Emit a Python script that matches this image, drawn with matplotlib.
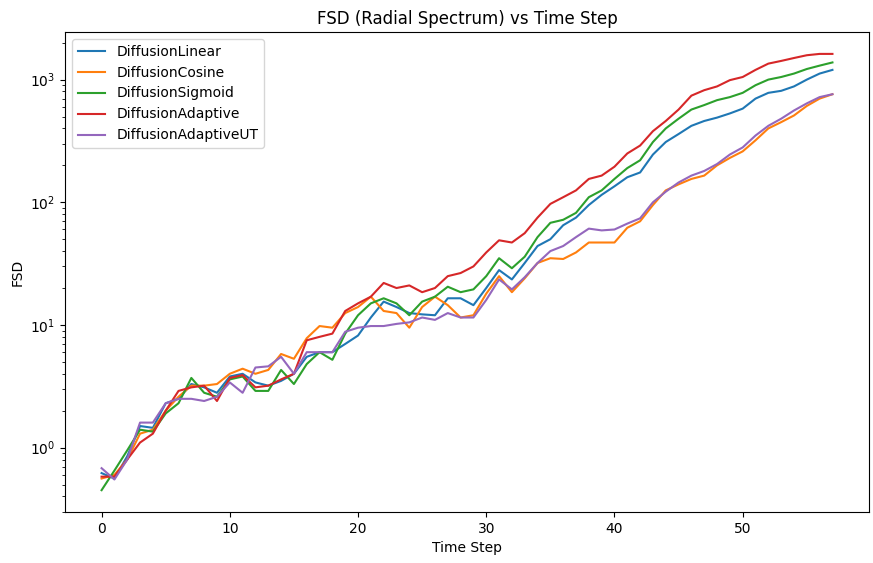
import numpy as np
import matplotlib.pyplot as plt

steps = np.arange(58)

linear = [0.62, 0.56, 0.85, 1.5, 1.45, 2.3, 2.5, 3.3, 3.1, 2.8,
          3.8, 4.0, 3.4, 3.2, 3.5, 4.0, 5.5, 6.0, 6.0, 7.0,
          8.2, 11.5, 15.5, 14, 12.5, 12.2, 12.0, 16.5, 16.5, 14.5,
          20, 28, 23.5, 32, 44, 50, 65, 75, 95, 115,
          135, 160, 175, 245, 310, 360, 420, 460, 490, 530,
          580, 700, 780, 810, 880, 1000, 1120, 1200]
cosine = [0.56, 0.6, 0.8, 1.3, 1.4, 2.0, 2.6, 3.2, 3.2, 3.3,
          4.0, 4.4, 4.0, 4.3, 5.8, 5.3, 7.8, 9.8, 9.5, 12.5,
          14, 17, 13, 12.5, 9.5, 14, 17, 14.5, 11.5, 12,
          18, 25, 18.5, 24, 32, 35, 34.5, 39, 47, 47,
          47, 62, 70, 95, 125, 140, 155, 165, 200, 230,
          260, 320, 400, 450, 510, 610, 700, 760]
sigmoid = [0.45, 0.65, 0.95, 1.4, 1.35, 1.9, 2.3, 3.7, 2.8, 2.6,
           3.6, 3.8, 2.9, 2.9, 4.3, 3.3, 4.8, 6.0, 5.2, 8.5,
           12, 15, 16.5, 15, 12, 15.5, 17, 20.5, 18.5, 19.5,
           25, 35, 29, 36, 52, 68, 72, 82, 110, 125,
           155, 190, 220, 310, 400, 480, 570, 620, 680, 720,
           780, 900, 1000, 1050, 1120, 1220, 1300, 1380]
adaptive = [0.58, 0.58, 0.8, 1.1, 1.3, 2.0, 2.9, 3.1, 3.2, 2.4,
            3.7, 3.9, 3.1, 3.2, 3.6, 4.0, 7.5, 8.0, 8.5, 13,
            15, 17, 22, 20, 21, 18.5, 20, 25, 26.5, 30,
            39, 49, 47, 56, 75, 97, 110, 125, 155, 165,
            195, 250, 290, 380, 460, 570, 740, 820, 880, 990,
            1050, 1200, 1350, 1420, 1500, 1580, 1620, 1620]
adaptive_ut = [0.68, 0.55, 0.8, 1.6, 1.6, 2.3, 2.5, 2.5, 2.4, 2.6,
               3.4, 2.8, 4.5, 4.6, 5.5, 4.0, 6.0, 6.0, 6.0, 8.8,
               9.5, 9.8, 9.8, 10.2, 10.5, 11.5, 11, 12.5, 11.5, 11.5,
               16, 23.5, 19.5, 24.5, 32, 40, 44, 52, 61, 59,
               60, 67, 74, 100, 122, 145, 165, 180, 205, 245,
               280, 350, 420, 480, 560, 640, 720, 760]

series = [("DiffusionLinear", linear), ("DiffusionCosine", cosine),
          ("DiffusionSigmoid", sigmoid), ("DiffusionAdaptive", adaptive),
          ("DiffusionAdaptiveUT", adaptive_ut)]

fig, ax = plt.subplots(figsize=(8.73, 5.63), dpi=100)
fig.subplots_adjust(left=0.0745, right=0.9954, top=0.943, bottom=0.0906)

for name, vals in series:
    ax.plot(steps, vals, label=name)

ax.set_yscale("log")
ax.set_title("FSD (Radial Spectrum) vs Time Step")
ax.set_xlabel("Time Step")
ax.set_ylabel("FSD")
ax.legend(loc="upper left")

fig.savefig("out.png")
